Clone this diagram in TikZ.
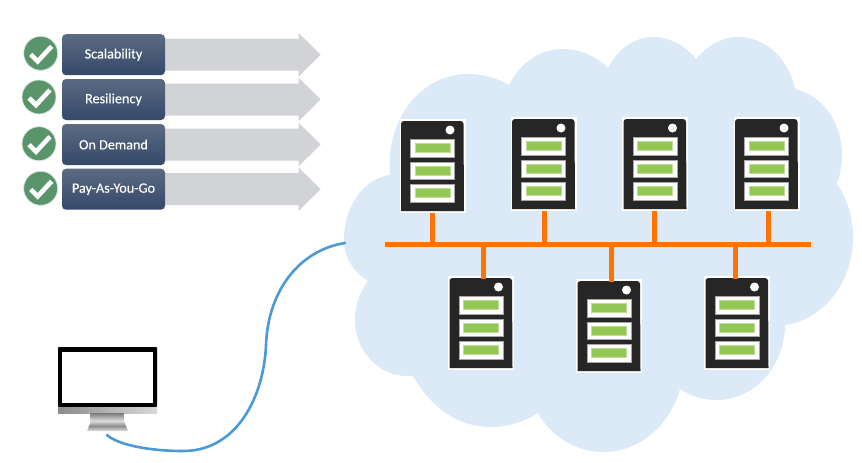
\documentclass[tikz,border=0pt]{standalone}
\usepackage{fontspec}
\setmainfont{Carlito}
\newfontfamily\labelfont[FakeBold=0.2]{Carlito}
\definecolor{CloudBlue}{RGB}{220, 234, 247}
\definecolor{BusOrange}{RGB}{255, 115, 0}
\definecolor{CableBlue}{RGB}{74, 154, 216}
\definecolor{ServerDark}{RGB}{38, 38, 38}
\definecolor{SlotGreen}{RGB}{146, 200, 83}
\definecolor{ArrowGray}{RGB}{210, 211, 215}
\definecolor{CheckGreen}{RGB}{90, 148, 106}
\definecolor{BoxTop}{RGB}{92, 107, 130}
\definecolor{BoxBottom}{RGB}{52, 72, 106}
\usetikzlibrary{arrows.meta, positioning, shapes, calc}

\begin{document}
\begin{tikzpicture}[x=1pt, y=-1pt,
        feature/.style={rectangle, rounded corners=4pt, top color=BoxTop, bottom color=BoxBottom, text=white, minimum width=103pt, minimum height=41pt, inner sep=0pt, align=center, font=\labelfont\fontsize{14.2}{16}\selectfont},
        bararrow/.style={single arrow, fill=ArrowGray, minimum height=161pt, inner xsep=0pt, inner ysep=15.8pt, single arrow head extend=5.7pt, single arrow tip angle=89, anchor=tip},
        checkmark/.style={circle, fill=CheckGreen, draw=CheckGreen!25, line width=0.7pt, minimum size=34pt, inner sep=0pt},
        tick/.style={draw=white, line width=4.6pt, line join=miter},
        serverbox/.style={rectangle, fill=white, minimum width=66pt, minimum height=94pt, inner sep=0pt},
        slot/.style={rectangle, fill=white, draw=black!35, line width=0.5pt, minimum width=44pt, minimum height=17.5pt, inner sep=0pt},
        led/.style={rectangle, fill=SlotGreen, draw=SlotGreen!60, line width=0.5pt, minimum width=35pt, minimum height=9pt, inner sep=0pt},
        busline/.style={draw=BusOrange, line width=5pt},
        cable/.style={draw=CableBlue, line width=2.6pt, line cap=round}
    ]
        \useasboundingbox (0,0) rectangle (862,463);

        \foreach \name/\cx/\cy/\ry/\txt in {a/40.7/53.3/54.7/Scalability, b/39/97/99.5/Resiliency, c/39/143.7/144.5/On Demand, d/40.7/188.3/189.2/Pay-As-You-Go} {
            \node[bararrow] (arrow\name) at (321,\ry) {};
            \node[feature] (box\name) at (113.5,\ry) {\txt};
            \node[checkmark] (check\name) at (\cx,\cy) {};
            \draw[tick] ($(check\name)+(-10,1)$) -- ($(check\name)+(-3,8)$) -- ($(check\name)+(11,-7)$);
        }

        \fill[CloudBlue] (390,175) .. controls (385,118) and (422,74) .. (468,74)
            .. controls (483,74) and (497,78) .. (509,85)
            .. controls (520,63) and (540,49) .. (563,49)
            .. controls (581,49) and (597,57) .. (608,68)
            .. controls (617,50) and (634,37) .. (653,37)
            .. controls (670,37) and (686,46) .. (696,59)
            .. controls (707,46) and (722,37) .. (738,37)
            .. controls (767,37) and (789,60) .. (795,89)
            .. controls (822,95) and (842,122) .. (842,155)
            .. controls (842,165) and (840,175) .. (837,184)
            .. controls (847,198) and (853,217) .. (853,237)
            .. controls (853,283) and (823,320) .. (785,325)
            .. controls (785,365) and (755,400) .. (717,400)
            .. controls (703,400) and (690,396) .. (680,389)
            .. controls (670,425) and (640,452) .. (603,452)
            .. controls (575,452) and (550,435) .. (538,413)
            .. controls (524,422) and (508,427) .. (490,427)
            .. controls (455,427) and (428,403) .. (413,376)
            -- (407,376)
            .. controls (378,376) and (355,350) .. (355,320)
            .. controls (355,305) and (360,292) .. (368,281)
            .. controls (353,272) and (344,257) .. (344,240)
            .. controls (344,205) and (365,178) .. (390,175) -- cycle;

        \foreach \n/\x/\y in {1/432.5/166, 2/543.5/164, 3/655/164, 4/766.5/164, 5/481/323, 6/609/326, 7/737/323} {
            \node[serverbox] (server\n) at (\x,\y) {};
            \fill[ServerDark] (\x-31.5,\y+45) [rounded corners=3pt] -- (\x-31.5,\y-45) -- (\x+31,\y-45) [sharp corners] -- (\x+31.5,\y+45) -- cycle;
            \fill[white] (\x+17.5,\y-36) circle (4.5);
            \foreach \k/\dy in {1/-18, 2/4.5, 3/27} {
                \node[slot] (slot\n\k) at (\x,\y+\dy) {};
                \node[led] at (slot\n\k) {};
            }
        }

        \coordinate (busleft) at (385,244.3);
        \coordinate (busright) at (811,244.3);
        \draw[busline] (busleft) -- (busright);
        \foreach \n/\x in {1/432.5, 2/544, 3/654, 4/768} {
            \coordinate (tap\n) at (\x,244.3);
            \draw[busline] (tap\n) -- (tap\n |- server\n.south);
        }
        \foreach \n/\x in {5/483, 6/611, 7/735} {
            \coordinate (tap\n) at (\x,244.3);
            \draw[busline, shorten >=-3pt] (tap\n) -- (tap\n |- server\n.north);
        }

        \node[rectangle, fill=black, rounded corners=0.8pt, minimum width=99pt, minimum height=60pt, inner sep=0pt] (monitor) at (107.5,377) {};
        \node[rectangle, fill=white, minimum width=91pt, minimum height=51pt, inner sep=0pt] (screen) at (107.5,377.5) {};
        \node[rectangle, left color=black!45, right color=black!15, minimum width=99pt, minimum height=6.5pt, inner sep=0pt] (chin) at (107.5,410.5) {};
        \node[rectangle, top color=black!50, bottom color=black!10, minimum width=33pt, minimum height=8pt, inner sep=0pt] (neck) at (107,417.5) {};
        \shade[top color=black!15, bottom color=black!12, middle color=black!45] (91,421) -- (124,421) -- (128,431) -- (87,431) -- cycle;

        \coordinate (cableout) at (107,435);
        \coordinate (cloudin) at (345,243);
        \draw[cable] (cableout) .. controls (118,445) and (150,451) .. (183,451)
            .. controls (238,451) and (264,395) .. (266,345)
            .. controls (268,290) and (300,250) .. (cloudin);
    \end{tikzpicture}
\end{document}
